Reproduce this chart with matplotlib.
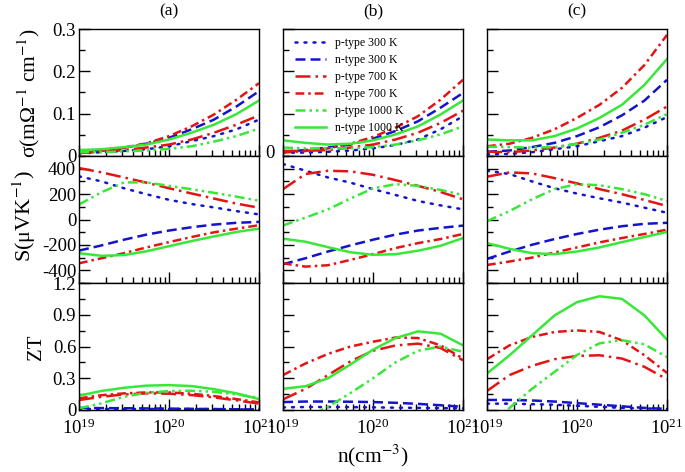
import matplotlib
matplotlib.use("Agg")
import matplotlib.pyplot as plt
from matplotlib.ticker import MultipleLocator, LogLocator, LogFormatterMathtext, NullFormatter

plt.rcParams['font.family'] = ['Liberation Serif', 'DejaVu Serif']
plt.rcParams['mathtext.fontset'] = 'stix'
plt.rcParams['axes.unicode_minus'] = False

# carrier concentration sample points (cm^-3)
N = [1.0e19, 1.78e19, 3.16e19, 5.62e19, 1.0e20, 1.78e20, 3.16e20, 5.62e20, 1.0e21]

LABELS = ["p-type 300 K", "n-type 300 K", "p-type 700 K",
          "n-type 700 K", "p-type 1000 K", "n-type 1000 K"]

# order of rows in every panel: p300, n300, p700, n700, p1000, n1000
SIG_A = [
    [0.006, 0.009, 0.012, 0.016, 0.023, 0.035, 0.047, 0.063, 0.086],
    [0.011, 0.014, 0.020, 0.029, 0.043, 0.063, 0.086, 0.117, 0.153],
    [0.007, 0.010, 0.014, 0.020, 0.027, 0.039, 0.055, 0.074, 0.096],
    [0.008, 0.012, 0.019, 0.030, 0.047, 0.070, 0.098, 0.133, 0.172],
    [0.009, 0.009, 0.011, 0.013, 0.017, 0.023, 0.034, 0.047, 0.065],
    [0.014, 0.016, 0.021, 0.027, 0.039, 0.055, 0.074, 0.099, 0.131],
]
SIG_B = [
    [0.008, 0.008, 0.010, 0.013, 0.018, 0.026, 0.039, 0.063, 0.094],
    [0.010, 0.014, 0.020, 0.027, 0.041, 0.059, 0.082, 0.114, 0.149],
    [0.012, 0.012, 0.014, 0.020, 0.027, 0.039, 0.055, 0.078, 0.107],
    [0.008, 0.012, 0.018, 0.029, 0.045, 0.067, 0.094, 0.133, 0.180],
    [0.020, 0.018, 0.018, 0.018, 0.021, 0.027, 0.037, 0.051, 0.070],
    [0.037, 0.031, 0.027, 0.029, 0.037, 0.051, 0.070, 0.098, 0.131],
]
SIG_C = [
    [0.004, 0.005, 0.009, 0.016, 0.023, 0.035, 0.047, 0.067, 0.092],
    [0.010, 0.013, 0.021, 0.031, 0.047, 0.068, 0.096, 0.131, 0.180],
    [0.010, 0.009, 0.013, 0.020, 0.029, 0.043, 0.060, 0.086, 0.117],
    [0.023, 0.029, 0.043, 0.063, 0.090, 0.121, 0.161, 0.215, 0.286],
    [0.022, 0.021, 0.020, 0.021, 0.029, 0.039, 0.055, 0.074, 0.099],
    [0.039, 0.037, 0.037, 0.047, 0.065, 0.090, 0.121, 0.168, 0.229],
]

S_A = [
    [340, 300, 246, 199, 155, 122, 95, 66, 40],
    [-245, -204, -159, -119, -87, -61, -40, -26, -19],
    [405, 371, 331, 290, 246, 205, 165, 125, 93],
    [-345, -305, -265, -220, -178, -138, -101, -72, -45],
    [118, 215, 292, 292, 265, 238, 210, 180, 148],
    [-265, -286, -280, -250, -210, -170, -133, -98, -72],
]
S_B = [
    [437, 384, 331, 290, 239, 193, 146, 111, 80],
    [-352, -305, -252, -204, -159, -119, -87, -66, -48],
    [239, 358, 384, 379, 352, 310, 265, 217, 159],
    [-345, -371, -360, -318, -273, -225, -186, -154, -114],
    [-47, 15, 80, 165, 245, 278, 265, 233, 193],
    [-151, -175, -218, -258, -278, -273, -246, -207, -146],
]
S_C = [
    [384, 358, 300, 246, 204, 167, 133, 93, 53],
    [-310, -252, -199, -154, -114, -80, -53, -34, -26],
    [337, 371, 363, 326, 284, 239, 199, 154, 106],
    [-358, -331, -300, -260, -220, -180, -146, -114, -80],
    [-13, 66, 159, 239, 278, 270, 239, 199, 146],
    [-186, -231, -265, -273, -252, -220, -178, -138, -98],
]

ZT_A = [
    [0.010, 0.010, 0.010, 0.010, 0.010, 0.010, 0.008, 0.006, 0.005],
    [0.020, 0.018, 0.017, 0.015, 0.013, 0.011, 0.009, 0.007, 0.005],
    [0.094, 0.125, 0.147, 0.157, 0.154, 0.141, 0.119, 0.091, 0.060],
    [0.110, 0.140, 0.157, 0.166, 0.166, 0.154, 0.132, 0.103, 0.072],
    [0.016, 0.063, 0.125, 0.163, 0.179, 0.182, 0.172, 0.147, 0.116],
    [0.135, 0.180, 0.210, 0.230, 0.235, 0.226, 0.197, 0.157, 0.103],
]
ZT_B = [
    [0.025, 0.028, 0.028, 0.027, 0.025, 0.022, 0.020, 0.018, 0.015],
    [0.075, 0.080, 0.080, 0.078, 0.075, 0.068, 0.058, 0.045, 0.030],
    [0.100, 0.200, 0.330, 0.460, 0.560, 0.610, 0.627, 0.586, 0.470],
    [0.330, 0.440, 0.530, 0.600, 0.645, 0.685, 0.680, 0.611, 0.486],
    [-0.150, -0.070, 0.030, 0.160, 0.300, 0.450, 0.560, 0.600, 0.550],
    [0.200, 0.225, 0.300, 0.430, 0.570, 0.680, 0.743, 0.721, 0.611],
]
ZT_C = [
    [0.060, 0.060, 0.055, 0.050, 0.040, 0.030, 0.020, 0.015, 0.010],
    [0.095, 0.095, 0.090, 0.080, 0.065, 0.050, 0.035, 0.020, 0.010],
    [0.180, 0.330, 0.417, 0.480, 0.511, 0.517, 0.486, 0.408, 0.290],
    [0.480, 0.611, 0.690, 0.737, 0.752, 0.737, 0.658, 0.517, 0.350],
    [-0.150, 0.020, 0.200, 0.360, 0.520, 0.630, 0.660, 0.620, 0.500],
    [0.345, 0.517, 0.705, 0.893, 1.019, 1.075, 1.050, 0.893, 0.665],
]

BLUE, RED, GREEN = '#1414cc', '#e41414', '#38e838'
STYLES = [
    dict(color=BLUE, dashes=(0.8, 2.8), dash_capstyle='round'),
    dict(color=BLUE, dashes=(4, 2)),
    dict(color=RED, dashes=(6, 2, 1, 2)),
    dict(color=RED, dashes=(3.5, 1.6, 1, 1.6)),
    dict(color=GREEN, dashes=(4, 1.6, 1, 1.6, 1, 1.6)),
    dict(color=GREEN),
]

fig = plt.figure(figsize=(6.85, 4.72), dpi=100)
W, H = 685, 472
lefts = [79, 283, 487]
tops = [29, 156, 283]
pw, ph = 180, 127

rows = [(SIG_A, SIG_B, SIG_C), (S_A, S_B, S_C), (ZT_A, ZT_B, ZT_C)]
ylims = [(0, 0.3), (-500, 500), (0, 1.2)]
majors = [0.1, 200, 0.3]
minors = [0.05, 100, 0.15]


def short_fmt(v, pos):
    return '0' if abs(v) < 1e-9 else f'{v:.1f}'


for r in range(3):
    for c in range(3):
        ax = fig.add_axes([lefts[c] / W, 1 - (tops[r] + ph) / H, pw / W, ph / H])
        for vals, lab, st in zip(rows[r][c], LABELS, STYLES):
            ax.plot(N, vals, lw=1.8, label=lab, **st)
        ax.set_xscale('log')
        ax.set_xlim(1e19, 1e21)
        ax.set_ylim(*ylims[r])
        ax.yaxis.set_major_locator(MultipleLocator(majors[r]))
        ax.yaxis.set_minor_locator(MultipleLocator(minors[r]))
        ax.xaxis.set_major_locator(LogLocator(base=10))
        ax.xaxis.set_minor_locator(LogLocator(base=10, subs=range(2, 10)))
        ax.xaxis.set_minor_formatter(NullFormatter())
        ax.tick_params(which='both', direction='in', top=False, right=False,
                       labelsize=13.5, width=1)
        ax.tick_params(which='major', length=8)
        ax.tick_params(which='minor', length=4)
        ax.tick_params(axis='y', pad=2)
        for sp in ax.spines.values():
            sp.set_linewidth(1.0)
        if r != 1:
            ax.yaxis.set_major_formatter(plt.FuncFormatter(short_fmt))
        if r < 2:
            ax.tick_params(labelbottom=False)
        else:
            ax.xaxis.set_major_formatter(LogFormatterMathtext())
            ax.tick_params(axis='x', pad=6)
        if c > 0:
            ax.tick_params(labelleft=False)
        if r == 0 and c == 1:
            ax.legend(loc='upper left', frameon=False, fontsize=8.5,
                      handlelength=2.6, labelspacing=0.42,
                      borderaxespad=0.3, bbox_to_anchor=(0.02, 1.0))
            ax.text(-0.07, 0.02, '0', transform=ax.transAxes, fontsize=13.5,
                    ha='center', va='center')

for c, t in enumerate(['(a)', '(b)', '(c)']):
    fig.text((lefts[c] + pw / 2) / W, 1 - 11 / H, t, ha='center', va='center', fontsize=12.5)

fig.text(29 / W, 1 - 93 / H, 'σ(mΩ$^{-1}$ cm$^{-1}$)', rotation=90,
         ha='center', va='center', fontsize=15.5)
fig.text(24 / W, 1 - 216 / H, 'S(μVK$^{-1}$)', rotation=90,
         ha='center', va='center', fontsize=16)
fig.text(36 / W, 1 - 347 / H, 'ZT', rotation=90, ha='center', va='center', fontsize=15)
fig.text(373 / W, 1 - 456 / H, 'n(cm$^{-3}$)', ha='center', va='center', fontsize=15.5)

fig.savefig('out.png', dpi=100)
